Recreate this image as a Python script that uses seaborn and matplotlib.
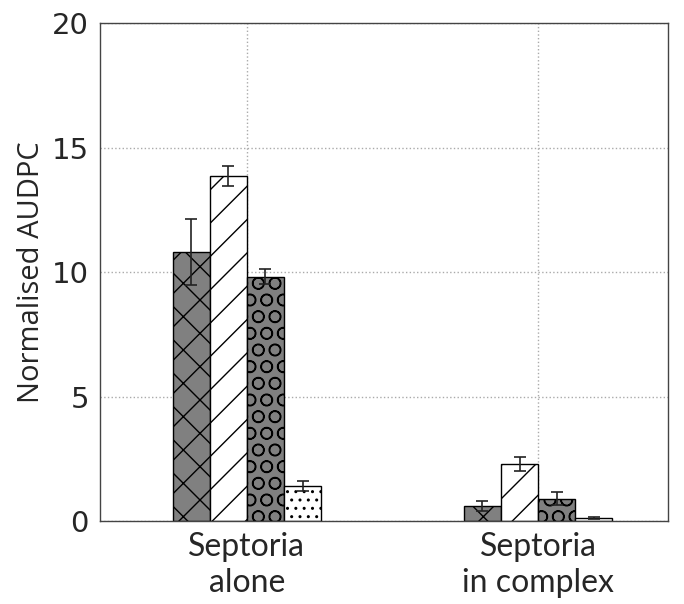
import pandas as pd
import seaborn as sns
import matplotlib.pyplot as plt

groups = ['Septoria\nalone', 'Septoria\nin complex']
treatments = ['T1', 'T2', 'T3', 'T4']
means_alone = [10.82, 13.87, 9.81, 1.41]
means_complex = [0.61, 2.29, 0.91, 0.13]
err_alone = [1.32, 0.40, 0.30, 0.21]
err_complex = [0.19, 0.29, 0.25, 0.03]

colors = ['#808080', 'white', '#808080', 'white']
hatches = ['x', '/', 'O', '..']

df = pd.DataFrame({
    'group': [groups[0]] * 4 + [groups[1]] * 4,
    'treatment': treatments * 2,
    'value': means_alone + means_complex,
    'err': err_alone + err_complex,
})

sns.set_style('white')
plt.rcParams['font.family'] = ['DejaVu Sans']
plt.rcParams['hatch.linewidth'] = 1.0
fig = plt.figure(figsize=(6.84, 6.04), dpi=100)
ax = fig.add_axes([0.146, 0.137, 0.831, 0.825])

sns.barplot(data=df, x='group', y='value', hue='treatment', palette=colors,
            width=0.51, edgecolor='black', linewidth=1, legend=False, ax=ax)

for cont, h, t in zip(ax.containers, hatches, treatments):
    sub = df[df.treatment == t]
    xs = []
    for bar in cont:
        bar.set_hatch(h)
        xs.append(bar.get_x() + bar.get_width() / 2)
    ax.errorbar(xs, sub['value'], yerr=sub['err'], fmt='none', ecolor='#222222',
                elinewidth=1.2, capsize=4, capthick=1.2, zorder=5)

ax.set_xlim(-0.505, 1.447)
ax.set_ylim(0, 20)
ax.set_yticks([0, 5, 10, 15, 20])
ax.grid(True, linestyle=':', color='#aaaaaa', linewidth=1)
ax.set_axisbelow(True)
ax.set_xlabel('')
ax.set_ylabel('Normalised AUDPC', fontsize=21, family=['Open Sans', 'DejaVu Sans'], labelpad=4)
ax.tick_params(axis='y', labelsize=21, length=0, pad=8)
ax.tick_params(axis='x', length=0, pad=8)
for lab in ax.get_xticklabels():
    lab.set_fontsize(23)
    lab.set_family(['Lato', 'DejaVu Sans'])
    lab.set_linespacing(1.25)
for s in ax.spines.values():
    s.set_color('#444444')
    s.set_linewidth(1)

fig.savefig('out.png', dpi=100)
